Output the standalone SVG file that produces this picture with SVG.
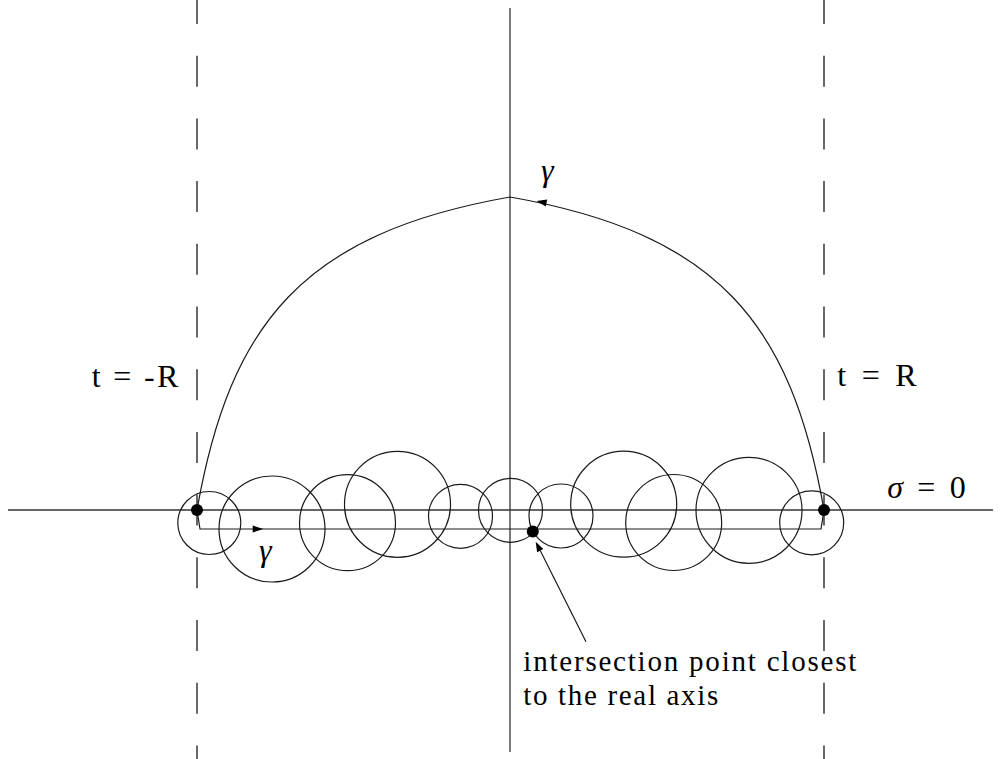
<svg xmlns="http://www.w3.org/2000/svg" width="1003" height="759" viewBox="0 0 1003 759">
<style>
.ln{fill:none;stroke:#1a1a1a;stroke-width:1.2}
.ax{fill:none;stroke:#333;stroke-width:1.3}
.da{fill:none;stroke:#444;stroke-width:1.6;stroke-dasharray:31 31.7;stroke-dashoffset:7}
.ci{fill:none;stroke:#1a1a1a;stroke-width:1.2}
.dot{fill:#000}
.ah{fill:#000}
.tx{font-family:"Liberation Serif","DejaVu Serif","Times New Roman",serif;font-size:32px;fill:#000}
.sm{font-size:29px}
.it{font-style:italic}
</style>
<rect width="1003" height="759" fill="#fff"/>
<g id="axes">
<line class="ax" x1="8" y1="510" x2="993" y2="510"/>
<line class="ax" x1="510" y1="8" x2="510" y2="752"/>
</g>
<g id="bounds">
<line class="da" x1="197" y1="0" x2="197" y2="759"/>
<line class="da" x1="824" y1="0" x2="824" y2="759"/>
</g>
<g id="circles">
<circle class="ci" cx="209.3" cy="523" r="31.5"/>
<circle class="ci" cx="272" cy="529" r="53"/>
<circle class="ci" cx="347.5" cy="522.7" r="48"/>
<circle class="ci" cx="397.5" cy="504.3" r="53"/>
<circle class="ci" cx="460.5" cy="516.3" r="32"/>
<circle class="ci" cx="510.5" cy="510.3" r="32"/>
<circle class="ci" cx="561" cy="516" r="32"/>
<circle class="ci" cx="623.7" cy="504.2" r="53"/>
<circle class="ci" cx="673.7" cy="522.5" r="48"/>
<circle class="ci" cx="749" cy="510.3" r="53"/>
<circle class="ci" cx="811.7" cy="522.8" r="32"/>
</g>
<g id="connectors">
<path id="contour" class="ln" d="M197,510 L200,529 L821,529 L824,510 C791,322.9 717.8,233.5 510,197 C303.2,233.5 230,322.9 197,510"/>
<polygon class="ah" points="263.3,529 252.7,525.5 252.7,532.5"/>
<polygon class="ah" points="536.7,201 547.2,199.6 545.8,206.4"/>
<line class="ln" x1="586" y1="641.7" x2="540.2" y2="550.6"/>
<polygon class="ah" points="535.7,541.7 543.3,549 537.1,552.2"/>
</g>
<g id="point-left"><circle class="dot" cx="197" cy="510" r="6"/></g>
<g id="point-right"><circle class="dot" cx="824" cy="510" r="6"/></g>
<g id="point-closest"><circle class="dot" cx="532.8" cy="531.5" r="6"/></g>
<g id="labels">
<text class="tx" x="91.7" y="387" textLength="86.6" lengthAdjust="spacing">t = -R</text>
<text class="tx" x="837.3" y="386" textLength="79.4" lengthAdjust="spacing">t = R</text>
<text class="tx" x="887.3" y="498" textLength="78.4" lengthAdjust="spacing"><tspan class="it">σ</tspan> = 0</text>
<text class="tx it" x="259" y="561">γ</text>
<text class="tx it" x="541" y="181">γ</text>
<text class="tx sm" x="523.3" y="671" textLength="333" lengthAdjust="spacing">intersection point closest</text>
<text class="tx sm" x="523.3" y="705" textLength="195" lengthAdjust="spacing">to the real axis</text>
</g>
</svg>
